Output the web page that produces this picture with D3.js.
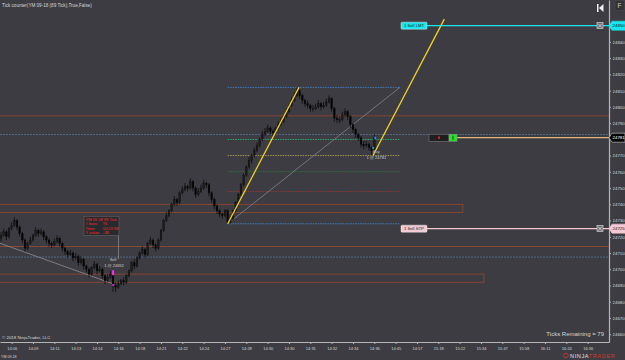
<!DOCTYPE html>
<html>
<head>
<meta charset="utf-8">
<script src="https://cdn.jsdelivr.net/npm/d3@7"></script>
<style>
html, body { margin: 0; padding: 0; background: #3d3c42; overflow: hidden; }
svg { display: block; font-family: "Liberation Sans", Arial, sans-serif; }
</style>
</head>
<body>
<div id="chart"></div>
<script>
// x axis labels, one every 8 bars
var timeLabels = ["14:06","14:09","14:11","14:13","14:14","14:16","14:18","14:21","14:22","14:24",
    "14:27","14:28","14:30","14:30","14:31","14:32","14:34","14:36","14:45","14:57",
    "15:18","15:22","15:34","15:47","15:58","16:11","16:24","16:36"];
var labelBars = [4,12,20,28,36,44,52,60,68,76,84,92,100,108,116,124,132,140,148,156,164,172,180,188,196,204,212,220];
var yTicks = [24660,24670,24680,24690,24700,24710,24720,24730,24740,24750,24760,24770,24780,
    24790,24800,24810,24820,24830,24840,24850];

// 89 tick bars (open = previous close)
var firstOpen = 24719;
var closes = [24721,24723,24720,24725,24727,24730,24726,24722,24718,24713,
    24716,24718,24721,24724,24722,24723,24720,24718,24716,24715,
    24717,24719,24716,24713,24711,24709,24710,24707,24708,24704,
    24706,24702,24700,24697,24701,24703,24699,24700,24696,24693,
    24695,24697,24690,24689,24691,24693,24692,24696,24699,24704,
    24702,24707,24710,24712,24709,24716,24718,24715,24713,24718,
    24724,24730,24733,24736,24740,24743,24741,24747,24749,24751,
    24750,24754,24750,24746,24748,24750,24753,24752,24747,24743,
    24739,24736,24734,24733,24736,24729,24731,24736,24741,24746,
    24752,24758,24763,24767,24770,24773,24776,24780,24783,24785,
    24787,24785,24784,24787,24789,24791,24794,24797,24801,24804,
    24807,24810,24807,24804,24802,24801,24799,24799,24800,24802,
    24800,24801,24803,24805,24799,24793,24792,24792,24795,24797,
    24794,24789,24786,24783,24781,24777,24776,24777,24775,24773,
    24781];
var highs = [24723,24725,24724,24726,24729,24732,24731,24727,24723,24719,
    24717,24720,24722,24726,24725,24725,24724,24721,24719,24717,
    24719,24721,24720,24717,24714,24712,24712,24711,24710,24709,
    24708,24707,24703,24701,24702,24705,24704,24702,24701,24697,
    24697,24699,24698,24692,24693,24694,24695,24697,24700,24705,
    24706,24708,24711,24714,24713,24717,24720,24719,24716,24719,
    24725,24731,24735,24737,24741,24745,24744,24748,24751,24753,
    24752,24756,24755,24751,24750,24752,24755,24754,24753,24748,
    24744,24740,24737,24735,24737,24737,24733,24737,24742,24747,
    24753,24759,24764,24769,24771,24775,24778,24781,24785,24787,
    24789,24788,24786,24788,24791,24793,24795,24799,24802,24806,
    24809,24812,24811,24808,24805,24804,24802,24801,24802,24804,
    24803,24803,24805,24807,24806,24800,24795,24794,24797,24799,
    24798,24795,24790,24787,24784,24782,24779,24779,24778,24776,
    24783];
var lows = [24717,24720,24718,24719,24724,24726,24724,24720,24716,24711,
    24712,24715,24717,24720,24720,24721,24718,24716,24714,24713,
    24714,24716,24714,24711,24709,24707,24708,24705,24706,24702,
    24703,24700,24698,24695,24696,24700,24697,24698,24694,24691,
    24692,24694,24686,24686,24688,24690,24690,24691,24695,24698,
    24700,24701,24706,24709,24707,24708,24715,24713,24711,24712,
    24717,24723,24729,24732,24735,24739,24739,24740,24746,24748,
    24748,24749,24748,24744,24745,24747,24749,24750,24745,24741,
    24737,24734,24732,24731,24732,24728,24728,24730,24735,24740,
    24745,24751,24757,24762,24765,24769,24772,24775,24779,24782,
    24784,24783,24782,24783,24786,24788,24790,24793,24796,24800,
    24803,24806,24805,24802,24800,24799,24797,24797,24798,24799,
    24798,24799,24800,24802,24797,24791,24790,24790,24791,24794,
    24792,24787,24784,24781,24779,24775,24774,24775,24773,24770,
    24772];

// drawn levels
var fullLinePrices = [24794.5, 24783, 24714, 24707.5];
var boxTops = [24740, 24697];
var boxBottoms = [24735, 24692];
var boxEndBars = [173.2, 181.1];
var fibRatios = [0, 0.236, 0.382, 0.5, 0.618, 1];
var fibStart = [85, 24728];
var fibEnd = [149.6, 24812];
var yellowLine1 = [[85, 24728], [111.75, 24812]];
var yellowLine2 = [[139.5, 24770], [166.25, 24854]];
var rulerLine = [[-0.375, 24716], [42, 24691]];
var rulerInfo = ["YM 09-18 89 Tick", "# bars:", "Time:", "Y value:"];
var rulerValues = ["", "91", "00:19:38", "-38"];
var sellBar = 42, sellPrice = 24692;
var buyBar = 140, buyPrice = 24781;
var limitPrice = 24850, stopPrice = 24725, positionPrice = 24781;

// styles
var fullLineColors = ["#92432e", "#56739b", "#9c4a2e", "#56739b"];
var fibColors = ["#3e7fc4", "#8e3a36", "#2f6e3a", "#a39a55", "#2fa86a", "#3e7fc4"];
var boxColor = "#9e4a2c";
var textColor = "#d6d6d6";

var W = 625, H = 360, plotW = 609, plotH = 342;

var svg = d3.select("#chart").append("svg")
    .attr("width", W).attr("height", H);

svg.append("rect").attr("width", W).attr("height", H).attr("fill", "#3d3c42");

var x = d3.scaleLinear().domain([-0.375, 228]).range([0, plotW]);
var y = d3.scaleLinear().domain([24655.2, 24865.8]).range([plotH, 0]);

var plot = svg.append("g");

// full width lines
plot.selectAll("line.full").data(fullLinePrices).enter().append("line")
    .attr("x1", 0).attr("x2", plotW)
    .attr("y1", function(d){ return y(d); }).attr("y2", function(d){ return y(d); })
    .attr("stroke", function(d, i){ return fullLineColors[i]; })
    .attr("stroke-width", 0.8)
    .attr("stroke-dasharray", function(d, i){ return i % 2 ? "2,1" : null; });

// rectangles
plot.selectAll("rect.zone").data(boxTops).enter().append("rect")
    .attr("x", -2)
    .attr("y", function(d){ return y(d); })
    .attr("width", function(d, i){ return x(boxEndBars[i]) + 2; })
    .attr("height", function(d, i){ return y(boxBottoms[i]) - y(d); })
    .attr("fill", "none").attr("stroke", boxColor).attr("stroke-width", 0.7);

// fib levels
plot.selectAll("line.fib").data(fibRatios).enter().append("line")
    .attr("x1", x(fibStart[0])).attr("x2", x(fibEnd[0]))
    .attr("y1", function(d){ return y(fibStart[1] + d * (fibEnd[1] - fibStart[1])); })
    .attr("y2", function(d){ return y(fibStart[1] + d * (fibEnd[1] - fibStart[1])); })
    .attr("stroke", function(d, i){ return fibColors[i]; })
    .attr("stroke-width", 1)
    .attr("stroke-dasharray", "1.5,1");

var line = d3.line().x(function(d){ return x(d[0]); }).y(function(d){ return y(d[1]); });

plot.append("path").attr("d", line([fibStart, fibEnd]))
    .attr("stroke", "#8d8d93").attr("stroke-width", 0.7).attr("fill", "none");
plot.append("path").attr("d", line(rulerLine))
    .attr("stroke", "#8d8d93").attr("stroke-width", 0.8).attr("fill", "none");

// candles
var bars = closes.map(function(c, i){
    return { i: i, o: i === 0 ? firstOpen : closes[i - 1], c: c, h: highs[i], l: lows[i] };
});
var candles = plot.selectAll("g.bar").data(bars).enter().append("g");
candles.append("line")
    .attr("x1", function(d){ return x(d.i); }).attr("x2", function(d){ return x(d.i); })
    .attr("y1", function(d){ return y(d.h); }).attr("y2", function(d){ return y(d.l); })
    .attr("stroke", "#0b0b0b").attr("stroke-width", 0.8);
candles.append("rect")
    .attr("x", function(d){ return x(d.i) - 0.9; })
    .attr("width", 1.8)
    .attr("y", function(d){ return y(Math.max(d.o, d.c)); })
    .attr("height", function(d){ return Math.max(0.8, Math.abs(y(d.o) - y(d.c))); })
    .attr("fill", function(d){ return d.c >= d.o ? "#1d1d1f" : "#050505"; })
    .attr("stroke", "#0b0b0b").attr("stroke-width", 0.3);

// yellow trend lines
[yellowLine1, yellowLine2].forEach(function(pts){
    plot.append("path").attr("d", line(pts))
        .attr("stroke", "#f2d21c").attr("stroke-width", 1.3).attr("fill", "none");
});

// ruler text box
var bx = x(sellBar) - 29, by = y(sellPrice) - 66;
plot.append("line").attr("x1", bx + 34.5).attr("x2", bx + 34.5)
    .attr("y1", by + 19).attr("y2", y(sellPrice) - 23)
    .attr("stroke", "#9a9a9a").attr("stroke-width", 0.6);
plot.append("rect").attr("x", bx).attr("y", by).attr("width", 35).attr("height", 19)
    .attr("fill", "#2a292e").attr("stroke", "#6a6a6a").attr("stroke-width", 0.5);
plot.selectAll("text.ri").data(rulerInfo).enter().append("text")
    .attr("x", bx + 1.5).attr("y", function(d, i){ return by + 4.5 + i * 4.5; })
    .attr("font-size", 4).attr("fill", "#ff2a2a").text(function(d){ return d; });
plot.selectAll("text.rv").data(rulerValues).enter().append("text")
    .attr("x", bx + 19).attr("y", function(d, i){ return by + 4.5 + i * 4.5; })
    .attr("font-size", 4).attr("fill", "#ff2a2a").text(function(d){ return d; });

// executions
plot.append("rect").attr("x", x(sellBar) - 0.9).attr("y", y(sellPrice) - 12)
    .attr("width", 2).attr("height", 5).attr("fill", "#ff2aff");
plot.append("rect").attr("x", x(sellBar) - 0.9).attr("y", y(sellPrice) + 2)
    .attr("width", 2).attr("height", 1.5).attr("fill", "#ff2aff");
plot.append("text").attr("x", x(sellBar)).attr("y", y(sellPrice) - 21)
    .attr("text-anchor", "middle").attr("font-size", 4).attr("fill", "#cfcfcf").text("Sell");
plot.append("text").attr("x", x(sellBar) + 1).attr("y", y(sellPrice) - 15.5)
    .attr("text-anchor", "middle").attr("font-size", 4).attr("fill", "#cfcfcf").text("1 @ 24692");

plot.append("rect").attr("x", x(buyBar)).attr("y", y(buyPrice) - 1)
    .attr("width", 1.6).attr("height", 2.5).attr("fill", "#1e9cff");
plot.append("rect").attr("x", x(buyBar) - 2).attr("y", y(buyPrice) + 9)
    .attr("width", 1.6).attr("height", 2.5).attr("fill", "#1e9cff");
plot.append("text").attr("x", x(buyBar) + 2).attr("y", y(buyPrice) + 15.5)
    .attr("text-anchor", "middle").attr("font-size", 4).attr("fill", "#bdbdbd").text("Buy");
plot.append("text").attr("x", x(buyBar) + 2).attr("y", y(buyPrice) + 21.5)
    .attr("text-anchor", "middle").attr("font-size", 4).attr("fill", "#cfcfcf").text("1 @ 24781");

// order lines
var labelX = x(150);
function orderLine(price, color, label) {
    plot.append("line").attr("x1", labelX + 26).attr("x2", plotW)
        .attr("y1", y(price)).attr("y2", y(price))
        .attr("stroke", color).attr("stroke-width", 1.4);
    plot.append("rect").attr("x", labelX).attr("y", y(price) - 3.5).attr("width", 26).attr("height", 7)
        .attr("rx", 1).attr("fill", color).attr("stroke", "#ffffff").attr("stroke-width", 0.4);
    plot.append("text").attr("x", labelX + 3).attr("y", y(price) + 1.5)
        .attr("font-size", 4.2).attr("fill", "#222").text(label);
    var cx = plotW - 9;
    plot.append("rect").attr("x", cx - 3).attr("y", y(price) - 3).attr("width", 6).attr("height", 6)
        .attr("fill", "#6e6e72").attr("stroke", "#e6e6e6").attr("stroke-width", 0.6);
    plot.append("path").attr("d", "M" + (cx - 1.8) + "," + (y(price) - 1.8) + "L" + (cx + 1.8) + "," + (y(price) + 1.8) +
        "M" + (cx + 1.8) + "," + (y(price) - 1.8) + "L" + (cx - 1.8) + "," + (y(price) + 1.8))
        .attr("stroke", "#f0f0f0").attr("stroke-width", 0.7);
}
orderLine(limitPrice, "#19e6ee", "1  Sell LMT");
orderLine(stopPrice, "#f3c9d3", "1  Sell STP");

// position line and widget
var wx = x(160.5);
plot.append("line").attr("x1", wx + 28).attr("x2", plotW)
    .attr("y1", y(positionPrice)).attr("y2", y(positionPrice))
    .attr("stroke", "#e8b47a").attr("stroke-width", 1.2);
plot.append("rect").attr("x", wx).attr("y", y(positionPrice) - 3.5).attr("width", 20).attr("height", 7)
    .attr("fill", "#1f1f22").attr("stroke", "#8a8a8a").attr("stroke-width", 0.5);
plot.append("rect").attr("x", wx + 9).attr("y", y(positionPrice) - 1.3).attr("width", 2).attr("height", 2.6)
    .attr("fill", "#d21e1e");
plot.append("rect").attr("x", wx + 20).attr("y", y(positionPrice) - 3.5).attr("width", 8).attr("height", 7)
    .attr("fill", "#2ee02e").attr("stroke", "#8a8a8a").attr("stroke-width", 0.5);
plot.append("rect").attr("x", wx + 23.5).attr("y", y(positionPrice) - 2).attr("width", 1).attr("height", 4)
    .attr("fill", "#0a4a0a");

// axes
var xAxis = d3.axisBottom(x).tickValues(labelBars)
    .tickFormat(function(d, i){ return timeLabels[i]; })
    .tickSize(2).tickSizeOuter(0).tickPadding(3.5);
var gx = svg.append("g").attr("transform", "translate(0," + plotH + ")").call(xAxis);
gx.select(".domain").attr("stroke", "#b5b5b5").attr("stroke-width", 1.2);
gx.selectAll(".tick line").attr("stroke", "#b5b5b5");
gx.selectAll("text").attr("font-size", 4).attr("fill", textColor).attr("font-family", "Liberation Sans, Arial");

// tick labels hidden where an order tag sits on the axis
var tagPrices = [limitPrice, positionPrice, stopPrice];
var yAxis = d3.axisRight(y).tickValues(yTicks)
    .tickFormat(function(d){
        var hidden = tagPrices.some(function(p){ return Math.abs(y(p) - y(d)) < 5; });
        return hidden ? "" : d3.format("d")(d);
    })
    .tickSize(2).tickSizeOuter(0).tickPadding(1.5);
var gy = svg.append("g").attr("transform", "translate(" + plotW + ",0)").call(yAxis);
gy.select(".domain").attr("stroke", "#b5b5b5").attr("stroke-width", 1.2);
gy.selectAll(".tick line").attr("stroke", "#b5b5b5");
gy.selectAll("text").attr("font-size", 4.4).attr("fill", textColor).attr("font-family", "Liberation Sans, Arial");

// price tags on the axis
function tag(price, fill, txtColor, stroke) {
    var ty = y(price);
    svg.append("path")
        .attr("d", "M" + plotW + "," + ty + "L" + (plotW + 3) + "," + (ty - 4.5) + "L" + W + "," + (ty - 4.5) +
            "L" + W + "," + (ty + 4.5) + "L" + (plotW + 3) + "," + (ty + 4.5) + "Z")
        .attr("fill", fill).attr("stroke", stroke).attr("stroke-width", 0.6);
    svg.append("text").attr("x", plotW + 3.5).attr("y", ty + 1.6)
        .attr("font-size", 4.4).attr("fill", txtColor).text(d3.format("d")(price));
}
tag(limitPrice, "#19e6ee", "#111", "#19e6ee");
tag(positionPrice, "#050505", "#ffffff", "#cfcfcf");
tag(stopPrice, "#f3c9d3", "#222", "#f3c9d3");

// header and footer texts
svg.append("text").attr("x", 2).attr("y", 7).attr("font-size", 4.6).attr("fill", textColor)
    .text("Tick counter(YM 09-18 (89 Tick),True,False)");
svg.append("text").attr("x", 2).attr("y", 339).attr("font-size", 4.4).attr("fill", textColor)
    .text("\u00a9 2018 NinjaTrader, LLC");
svg.append("text").attr("x", 604).attr("y", 336).attr("text-anchor", "end")
    .attr("font-size", 6).attr("fill", textColor).text("Ticks Remaining = 79");
svg.append("text").attr("x", 1).attr("y", 358).attr("font-size", 3.6).attr("fill", textColor)
    .text("YM 09-18");

// top right buttons
svg.append("rect").attr("x", 597).attr("y", 4).attr("width", 1.5).attr("height", 8).attr("fill", "#f2f2f2");
svg.append("path").attr("d", "M603.5,4L599,8L603.5,12Z").attr("fill", "#f2f2f2");
svg.append("rect").attr("x", 615).attr("y", 0.5).attr("width", 9).attr("height", 10)
    .attr("fill", "#333237").attr("stroke", "#555").attr("stroke-width", 0.4);
svg.append("text").attr("x", 619.5).attr("y", 8).attr("text-anchor", "middle")
    .attr("font-size", 6.5).attr("fill", "#cfcfcf").text("F");

// logo
svg.append("circle").attr("cx", 566).attr("cy", 355.5).attr("r", 2.3)
    .attr("fill", "none").attr("stroke", "#c8322a").attr("stroke-width", 1);
var logo = svg.append("text").attr("x", 570).attr("y", 358).attr("font-size", 5.6)
    .attr("letter-spacing", 0.6);
logo.append("tspan").attr("fill", "#e0e0e0").text("NINJA");
logo.append("tspan").attr("fill", "#d2382c").text("TRADER");
</script>
</body>
</html>
